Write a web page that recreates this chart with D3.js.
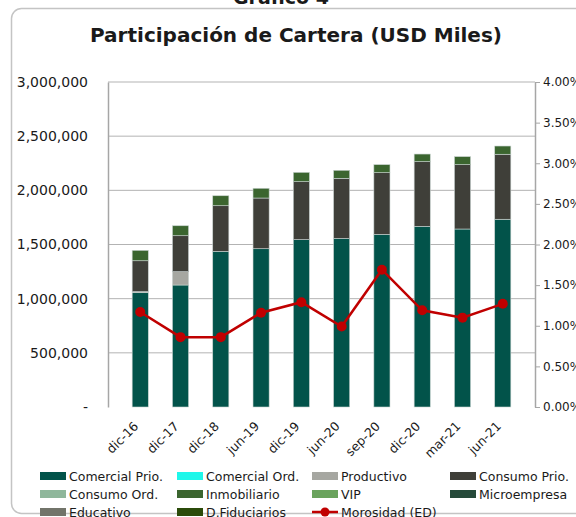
<!DOCTYPE html>
<html>
<head>
<meta charset="utf-8">
<script src="https://cdn.jsdelivr.net/npm/d3@7"></script>
<style>
  body { margin: 0; background: #ffffff; }
  #container { width: 576px; height: 517px; overflow: hidden; }
  text { font-family: "DejaVu Sans", Verdana, sans-serif; fill: #1a1a1a; }
</style>
</head>
<body>
<div id="container"></div>
<script>
    // Categories (x axis)
    const categories = ["dic-16", "dic-17", "dic-18", "jun-19", "dic-19", "jun-20", "sep-20", "dic-20", "mar-21", "jun-21"];

    // Series values (USD miles)
    const comercialPrio = [1055000, 1126000, 1437000, 1461000, 1545000, 1556000, 1594000, 1668000, 1643000, 1733000];
    const comercialOrd  = [0, 0, 0, 0, 0, 0, 0, 0, 0, 0];
    const productivo    = [10000, 123000, 0, 0, 0, 0, 0, 0, 0, 0];
    const consumoPrio   = [285000, 332000, 421000, 468000, 535000, 555000, 569000, 597000, 594000, 600000];
    const consumoOrd    = [0, 0, 0, 0, 0, 0, 0, 0, 0, 0];
    const inmobiliario  = [96000, 92000, 92000, 90000, 86000, 74000, 74000, 70000, 74000, 76000];
    const vip           = [0, 0, 0, 0, 0, 0, 0, 0, 0, 0];
    const microempresa  = [0, 0, 0, 0, 0, 0, 0, 0, 0, 0];
    const educativo     = [0, 0, 0, 0, 0, 0, 0, 0, 0, 0];
    const fiduciarios   = [0, 0, 0, 0, 0, 0, 0, 0, 0, 0];

    // Morosidad (right axis, fraction)
    const morosidad = [0.0117, 0.0086, 0.0086, 0.0116, 0.0129, 0.0099, 0.0169, 0.0119, 0.0110, 0.0127];

    // Tick values
    const leftTicks  = [0, 500000, 1000000, 1500000, 2000000, 2500000, 3000000];
    const rightTicks = [0, 0.005, 0.01, 0.015, 0.02, 0.025, 0.03, 0.035, 0.04];

    // Series names and colours
    const seriesNames  = ["Comercial Prio.", "Comercial Ord.", "Productivo", "Consumo Prio.", "Consumo Ord.", "Inmobiliario", "VIP", "Microempresa", "Educativo", "D.Fiduciarios"];
    const seriesValues = [comercialPrio, comercialOrd, productivo, consumoPrio, consumoOrd, inmobiliario, vip, microempresa, educativo, fiduciarios];
    const seriesColors = ["#02534a", "#1ef7ea", "#a6a7a1", "#3f3f39", "#8fb79b", "#3b652f", "#6aa35d", "#264a3a", "#72746a", "#2b4b0a"];

    // Table for the stack
    const table = categories.map(function(c, i) {
        const row = { cat: c };
        seriesNames.forEach(function(n, j) { row[n] = seriesValues[j][i]; });
        return row;
    });

    const width = 576, height = 517;
    const svg = d3.select("#container").append("svg")
                  .attr("width", width)
                  .attr("height", height);

    // Outer frame (rounded, partly cut off)
    svg.append("rect")
        .attr("x", 11.5).attr("y", 8.5)
        .attr("width", 640).attr("height", 505)
        .attr("rx", 10)
        .attr("fill", "none")
        .attr("stroke", "#c4c4c4")
        .attr("stroke-width", 1.5);

    // Cut-off heading above the frame
    svg.append("text")
        .attr("x", 281).attr("y", 4)
        .attr("text-anchor", "middle")
        .attr("font-size", "19px")
        .attr("font-weight", "bold")
        .text("Gráfico 4");

    // Title
    svg.append("text")
        .attr("x", 296).attr("y", 42)
        .attr("text-anchor", "middle")
        .attr("font-size", "20px")
        .attr("font-weight", "bold")
        .attr("font-family", "'DejaVu Sans Condensed', 'DejaVu Sans', sans-serif")
        .text("Participación de Cartera (USD Miles)");

    // Plot area
    const plotLeft = 108, plotRight = 535, plotTop = 82, plotBottom = 407;

    const x = d3.scaleBand().domain(categories).range([plotLeft, plotRight]).padding(0.6);
    const y = d3.scaleLinear().domain([0, 3000000]).range([plotBottom, plotTop]);
    const y2 = d3.scaleLinear().domain([0, 0.04]).range([plotBottom, plotTop]);

    // Gridlines
    svg.append("g")
        .selectAll("line")
        .data(leftTicks.slice(1))
        .enter().append("line")
        .attr("x1", plotLeft).attr("x2", plotRight)
        .attr("y1", d => y(d)).attr("y2", d => y(d))
        .attr("stroke", "#b3b3b3")
        .attr("stroke-width", 1);

    // Left axis
    const axisL = svg.append("g")
        .attr("transform", "translate(" + plotLeft + ",0)")
        .call(d3.axisLeft(y)
                .tickValues(leftTicks)
                .tickSize(0)
                .tickPadding(20)
                .tickFormat(d => d === 0 ? "-" : d3.format(",")(d)));
    axisL.select(".domain").attr("stroke", "#a6a6a6").attr("stroke-width", 1.5);
    axisL.selectAll("text").attr("font-size", "14px").attr("font-family", "'DejaVu Sans', sans-serif").attr("fill", "#1a1a1a");

    // Right axis
    const axisR = svg.append("g")
        .attr("transform", "translate(" + plotRight + ",0)")
        .call(d3.axisRight(y2)
                .tickValues(rightTicks)
                .tickSize(5)
                .tickSizeOuter(0)
                .tickPadding(3)
                .tickFormat(d3.format(".2%")));
    axisR.select(".domain").attr("stroke", "#a6a6a6").attr("stroke-width", 1.5);
    axisR.selectAll(".tick line").attr("stroke", "#a6a6a6");
    axisR.selectAll("text").attr("font-size", "12px").attr("font-family", "'DejaVu Sans', sans-serif").attr("fill", "#1a1a1a");

    // Stacked bars
    const stack = d3.stack().keys(seriesNames)(table);
    svg.append("g")
        .selectAll("g")
        .data(stack)
        .enter().append("g")
        .attr("fill", (d, i) => seriesColors[i])
        .selectAll("rect")
        .data(d => d.filter(p => p[1] - p[0] > 0))
        .enter().append("rect")
        .attr("x", d => x(d.data.cat))
        .attr("y", d => y(d[1]))
        .attr("width", x.bandwidth())
        .attr("height", d => y(d[0]) - y(d[1]))
        .attr("stroke", "#c9d3d0")
        .attr("stroke-width", 0.6);

    // X axis labels
    const axisB = svg.append("g")
        .attr("transform", "translate(0," + plotBottom + ")")
        .call(d3.axisBottom(x).tickSize(0).tickPadding(0));
    axisB.select(".domain").remove();
    axisB.selectAll("text")
        .attr("font-size", "12.5px")
        .attr("font-family", "'DejaVu Sans', sans-serif")
        .attr("fill", "#1a1a1a")
        .attr("text-anchor", "end")
        .attr("dy", 0)
        .attr("transform", "translate(-1,20) rotate(-45)");

    // Morosidad line
    const line = d3.line()
        .x((d, i) => x(categories[i]) + x.bandwidth() / 2)
        .y(d => y2(d));
    svg.append("path")
        .datum(morosidad)
        .attr("d", line)
        .attr("fill", "none")
        .attr("stroke", "#c00000")
        .attr("stroke-width", 2.5);
    svg.append("g")
        .selectAll("circle")
        .data(morosidad)
        .enter().append("circle")
        .attr("cx", (d, i) => x(categories[i]) + x.bandwidth() / 2)
        .attr("cy", d => y2(d))
        .attr("r", 5)
        .attr("fill", "#c00000");

    // Legend
    const legendItems = seriesNames.map((n, i) => ({ name: n, color: seriesColors[i], type: "bar" }));
    legendItems.push({ name: "Morosidad (ED)", color: "#c00000", type: "line" });
    const colX = [40, 177, 312, 450];
    const rowY = [476, 494, 512];
    const legend = svg.append("g")
        .selectAll("g")
        .data(legendItems)
        .enter().append("g")
        .attr("transform", (d, i) => "translate(" + colX[i % 4] + "," + rowY[Math.floor(i / 4)] + ")");
    legend.filter(d => d.type === "bar").append("rect")
        .attr("x", 0).attr("y", -4)
        .attr("width", 26).attr("height", 8)
        .attr("fill", d => d.color);
    legend.filter(d => d.type === "line").append("line")
        .attr("x1", 0).attr("x2", 26)
        .attr("stroke", d => d.color)
        .attr("stroke-width", 2.5);
    legend.filter(d => d.type === "line").append("circle")
        .attr("cx", 13).attr("r", 4.5)
        .attr("fill", d => d.color);
    legend.append("text")
        .attr("x", 29).attr("y", 5)
        .attr("font-size", "12.5px")
        .text(d => d.name);
</script>
</body>
</html>
